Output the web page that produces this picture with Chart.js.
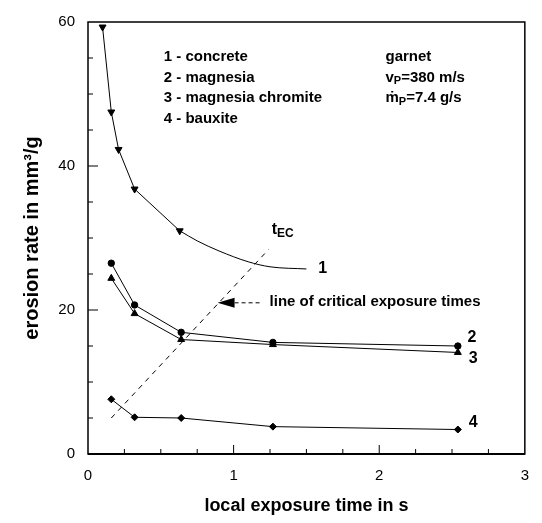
<!DOCTYPE html>
<html>
<head>
<meta charset="utf-8">
<script src="https://cdn.jsdelivr.net/npm/chart.js@4/dist/chart.umd.min.js"></script>
<style>
  html, body { margin: 0; padding: 0; background: #fff; }
  #chart { display: block; }
</style>
</head>
<body>
<canvas id="chart" width="542" height="523"></canvas>
<script>
/* values */
var timeConcrete = [0.10, 0.16, 0.21, 0.32, 0.63];
var rateConcrete = [59.3, 47.5, 42.3, 36.8, 31.0];
var timeConcreteTail = [0.63, 0.75, 0.90, 1.10, 1.25, 1.50];
var rateConcreteTail = [31.0, 29.6, 28.2, 26.7, 26.0, 25.7];
var timeSamples = [0.16, 0.32, 0.64, 1.27, 2.54];
var rateMagnesia = [26.5, 20.7, 16.9, 15.5, 15.0];
var rateChromite = [24.4, 19.5, 15.9, 15.2, 14.1];
var rateBauxite = [7.6, 5.1, 5.0, 3.8, 3.4];
var criticalTime = [0.16, 1.24];
var criticalRate = [5.0, 28.4];
var xTicks = [0, 1, 2, 3];
var yTicks = [0, 20, 40, 60];
var materials = ['1 - concrete', '2 - magnesia', '3 - magnesia chromite', '4 - bauxite'];

var FONT = "'Liberation Sans', Arial, sans-serif";

function points(xs, ys) {
  return xs.map(function (x, i) { return { x: x, y: ys[i] }; });
}

function series(label, xs, ys, style, extra) {
  var ds = {
    label: label,
    data: points(xs, ys),
    borderColor: '#000',
    backgroundColor: '#000',
    borderWidth: 1,
    pointStyle: style,
    pointRadius: style ? 4 : 0,
    pointHoverRadius: 0,
    tension: 0
  };
  return Object.assign(ds, extra || {});
}

/* text with subscripts, parts = [[text, isSub], ...] */
function richText(ctx, parts, x, y, size) {
  parts.forEach(function (p) {
    var sub = p[1];
    ctx.font = 'bold ' + (sub ? size - 4 : size) + 'px ' + FONT;
    ctx.fillText(p[0], x, sub ? y + 4 : y);
    x += ctx.measureText(p[0]).width;
  });
}

var decor = {
  id: 'decor',
  afterDraw: function (chart) {
    var ctx = chart.ctx, a = chart.chartArea;
    var xs = chart.scales.x, ys = chart.scales.y;
    var px = function (v) { return xs.getPixelForValue(v); };
    var py = function (v) { return ys.getPixelForValue(v); };
    ctx.save();
    ctx.strokeStyle = '#000';
    ctx.fillStyle = '#000';

    // frame
    ctx.lineWidth = 1.5;
    ctx.strokeRect(a.left, a.top, a.right - a.left, a.bottom - a.top);
    ctx.lineWidth = 2;
    ctx.beginPath();
    ctx.moveTo(a.left, a.bottom);
    ctx.lineTo(a.right, a.bottom);
    ctx.stroke();

    // inward ticks
    ctx.lineWidth = 1;
    ctx.beginPath();
    for (var t = 0.25; t < 3; t += 0.25) {
      var len = Math.abs(t - Math.round(t)) < 1e-6 ? 9 : 5;
      ctx.moveTo(px(t), a.bottom);
      ctx.lineTo(px(t), a.bottom - len);
    }
    for (var v = 5; v < 60; v += 5) {
      var l2 = v % 20 === 0 ? 10 : 5;
      ctx.moveTo(a.left, py(v));
      ctx.lineTo(a.left + l2, py(v));
    }
    ctx.stroke();

    // arrow to the critical line
    var tipX = px(0.89), tipY = py(21.0);
    ctx.beginPath();
    ctx.moveTo(tipX, tipY);
    ctx.lineTo(tipX + 17, tipY - 5);
    ctx.lineTo(tipX + 17, tipY + 5);
    ctx.closePath();
    ctx.fill();
    ctx.setLineDash([4, 3]);
    ctx.beginPath();
    ctx.moveTo(tipX + 17, tipY);
    ctx.lineTo(px(1.19), tipY);
    ctx.stroke();
    ctx.setLineDash([]);

    ctx.textBaseline = 'middle';
    ctx.textAlign = 'left';

    // material list
    ctx.font = 'bold 15px ' + FONT;
    var rows = [55.1, 52.3, 49.4, 46.5];
    materials.forEach(function (m, i) {
      ctx.fillText(m, px(0.52), py(rows[i]));
    });

    // test conditions
    var cx = px(2.043);
    ctx.fillText('garnet', cx, py(rows[0]));
    richText(ctx, [['v', false], ['P', true], ['=380 m/s', false]], cx, py(rows[1]), 15);
    richText(ctx, [['ṁ', false], ['P', true], ['=7.4 g/s', false]], cx, py(rows[2]), 15);

    ctx.font = 'bold 15px ' + FONT;
    ctx.fillText('line of critical exposure times', px(1.247), py(21.1));

    // curve numbers
    ctx.font = 'bold 16px ' + FONT;
    ctx.textAlign = 'center';
    ctx.fillText('1', px(1.612), py(25.8));
    ctx.fillText('2', px(2.637), py(16.2));
    ctx.fillText('3', px(2.645), py(13.3));
    ctx.fillText('4', px(2.645), py(4.3));

    ctx.textAlign = 'left';
    ctx.textBaseline = 'alphabetic';
    ctx.font = 'bold 16px ' + FONT;
    ctx.fillText('t', px(1.262), py(30.5));
    var w = ctx.measureText('t').width;
    ctx.font = 'bold 12px ' + FONT;
    ctx.fillText('EC', px(1.262) + w, py(30.1));

    ctx.restore();
  }
};

var ctx = document.getElementById('chart').getContext('2d');
var chart = new Chart(ctx, {
  type: 'line',
  data: {
    datasets: [
      series('concrete', timeConcrete, rateConcrete, 'triangle', { rotation: 180 }),
      series('concrete trend', timeConcreteTail, rateConcreteTail, false, { cubicInterpolationMode: 'monotone' }),
      series('magnesia', timeSamples, rateMagnesia, 'circle', { pointRadius: 3.2 }),
      series('magnesia chromite', timeSamples, rateChromite, 'triangle'),
      series('bauxite', timeSamples, rateBauxite, 'rectRot', { pointRadius: 3.5 }),
      series('critical exposure', criticalTime, criticalRate, false, { borderDash: [5, 5] })
    ]
  },
  options: {
    responsive: false,
    animation: false,
    devicePixelRatio: 1,
    layout: { padding: { left: 0, right: 9, top: 17, bottom: 0 } },
    plugins: { legend: { display: false }, tooltip: { enabled: false } },
    scales: {
      x: {
        type: 'linear',
        min: 0, max: 3,
        afterBuildTicks: function (s) { s.ticks = xTicks.map(function (v) { return { value: v }; }); },
        afterFit: function (s) { s.height = 69; },
        grid: { display: false, drawTicks: false },
        border: { display: false },
        ticks: { color: '#000', padding: 13, font: { family: FONT, size: 15 } },
        title: {
          display: true,
          text: 'local exposure time in s',
          color: '#000',
          font: { family: FONT, size: 18, weight: 'bold' },
          padding: { top: 0, bottom: 6 }
        }
      },
      y: {
        min: 0, max: 60,
        afterBuildTicks: function (s) { s.ticks = yTicks.map(function (v) { return { value: v }; }); },
        afterFit: function (s) { s.width = 88; },
        grid: { display: false, drawTicks: false },
        border: { display: false },
        ticks: { color: '#000', padding: 13, font: { family: FONT, size: 15 } },
        title: {
          display: true,
          text: 'erosion rate in mm³/g',
          color: '#000',
          font: { family: FONT, size: 20, weight: 'bold' },
          padding: { top: 20, bottom: 0 }
        }
      }
    }
  },
  plugins: [decor]
});
</script>
</body>
</html>
